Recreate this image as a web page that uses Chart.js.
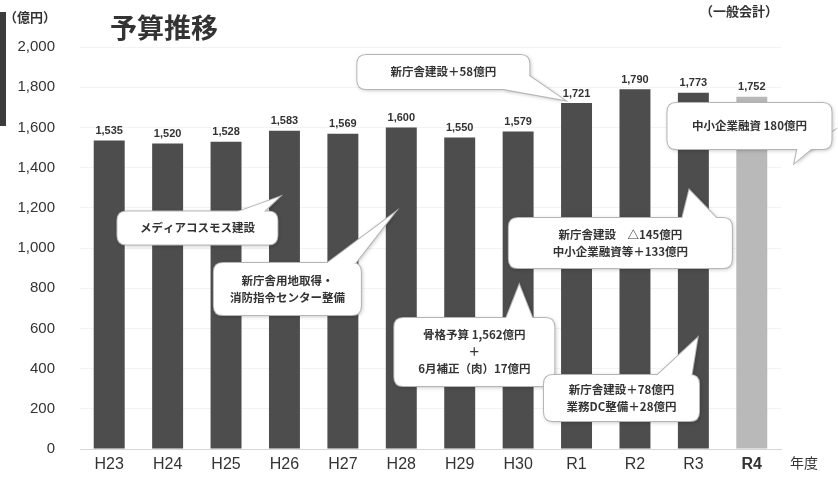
<!DOCTYPE html>
<html>
<head>
<meta charset="utf-8">
<script src="https://cdn.jsdelivr.net/npm/chart.js@4"></script>
<style>
  html,body{margin:0;padding:0;background:#fff;}
  #wrap{width:838px;height:486px;position:relative;}
</style>
</head>
<body>
<div id="wrap"><canvas id="chart" width="838" height="486"></canvas></div>
<script>
// budget by fiscal year (億円)
const years = ['H23','H24','H25','H26','H27','H28','H29','H30','R1','R2','R3','R4'];
const budget = [1535, 1520, 1528, 1583, 1569, 1600, 1550, 1579, 1721, 1790, 1773, 1752];
const yTicks = [0, 200, 400, 600, 800, 1000, 1200, 1400, 1600, 1800, 2000];

// callouts: box centre (category, value), size px, tail tip (category, value)
const notes = [
  {lines:['新庁舎建設＋58億円'], cat:5.72, val:1876, w:172, h:34, base:[60,17,86,4], tip:[7.79,1736]},
  {lines:['中小企業融資 180億円'], cat:10.96, val:1607, w:164, h:46, base:[48,23,82,6], tip:[11.73,1423]},
  {lines:['メディアコスモス建設'], cat:1.51, val:1099, w:160, h:33, base:[40,-16,66,-16], tip:[2.91,1254]},
  {lines:['新庁舎用地取得・','消防指令センター整備'], cat:3.05, val:796, w:147, h:52, base:[40,-26,68,-26], tip:[4.88,1174]},
  {lines:['骨格予算 1,562億円','＋','6月補正（肉）17億円'], cat:6.25, val:483, w:160, h:68, base:[32,-34,58,-34], tip:[7.02,816]},
  {lines:['新庁舎建設　△145億円','中小企業融資等＋133億円'], cat:8.75, val:1025, w:223, h:50, base:[62,-25,96,-25], tip:[9.93,1289]},
  {lines:['新庁舎建設＋78億円','業務DC整備＋28億円'], cat:8.77, val:254, w:155, h:46, base:[36,-23,70,-23], tip:[10.07,552]}
];

const barColors = years.map((y,i)=> i===years.length-1 ? '#b9b9b9' : '#4d4d4d');
const jp = '"Noto Sans CJK JP", "Noto Sans", sans-serif';

function roundRect(ctx,x,y,w,h,r){
  ctx.beginPath();
  ctx.moveTo(x+r,y); ctx.lineTo(x+w-r,y); ctx.quadraticCurveTo(x+w,y,x+w,y+r);
  ctx.lineTo(x+w,y+h-r); ctx.quadraticCurveTo(x+w,y+h,x+w-r,y+h);
  ctx.lineTo(x+r,y+h); ctx.quadraticCurveTo(x,y+h,x,y+h-r);
  ctx.lineTo(x,y+r); ctx.quadraticCurveTo(x,y,x+r,y);
  ctx.closePath();
}

const decor = {
  id:'decor',
  beforeDraw(chart){
    const ctx = chart.ctx;
    ctx.save();
    ctx.fillStyle = '#3c3c3c';
    ctx.fillRect(0, 12, 6, 114);
    ctx.fillStyle = '#333';
    ctx.textBaseline = 'middle';
    ctx.font = 'bold 13px ' + jp;
    ctx.fillText('（億円）', 4, 17);
    ctx.font = 'bold 27px ' + jp;
    ctx.fillText('予算推移', 110, 28);
    ctx.font = 'bold 13px ' + jp;
    ctx.fillText('（一般会計）', 700, 11);
    ctx.font = '14px ' + jp;
    ctx.fillText('年度', 790, 463);
    ctx.restore();
  },
  afterDatasetsDraw(chart){
    const ctx = chart.ctx;
    const xs = chart.scales.x, ys = chart.scales.y;
    const meta = chart.getDatasetMeta(0);
    ctx.save();
    ctx.fillStyle = '#333';
    ctx.font = 'bold 11px "Liberation Sans", sans-serif';
    ctx.textAlign = 'center';
    ctx.textBaseline = 'bottom';
    meta.data.forEach((bar,i)=>{
      ctx.fillText(budget[i].toLocaleString('en-US'), bar.x, bar.y - 4);
    });
    const x0 = xs.getPixelForValue(0), step = xs.getPixelForValue(1) - x0;
    const px = c => x0 + c*step;
    notes.forEach(n=>{
      const cx = px(n.cat), cy = ys.getPixelForValue(n.val);
      const bx = cx - n.w/2, by = cy - n.h/2;
      const tx = px(n.tip[0]), ty = ys.getPixelForValue(n.tip[1]);
      const tri = ()=>{
        ctx.beginPath();
        ctx.moveTo(cx+n.base[0], cy+n.base[1]);
        ctx.lineTo(tx, ty);
        ctx.lineTo(cx+n.base[2], cy+n.base[3]);
        ctx.closePath();
      };
      ctx.save();
      ctx.shadowColor = 'rgba(0,0,0,0.3)';
      ctx.shadowBlur = 4; ctx.shadowOffsetX = 1; ctx.shadowOffsetY = 1;
      ctx.fillStyle = '#fff';
      roundRect(ctx,bx,by,n.w,n.h,9); ctx.fill();
      tri(); ctx.fill();
      ctx.restore();
      ctx.strokeStyle = '#b5b5b5'; ctx.lineWidth = 2;
      roundRect(ctx,bx,by,n.w,n.h,9); ctx.stroke();
      tri(); ctx.stroke();
      ctx.fillStyle = '#fff';
      roundRect(ctx,bx,by,n.w,n.h,9); ctx.fill();
      tri(); ctx.fill();
      ctx.fillStyle = '#333';
      ctx.font = 'bold 11.5px ' + jp;
      ctx.textAlign = 'center'; ctx.textBaseline = 'middle';
      const lh = 17;
      n.lines.forEach((t,k)=>{
        ctx.fillText(t, cx, cy + (k - (n.lines.length-1)/2)*lh);
      });
    });
    ctx.restore();
  }
};

new Chart(document.getElementById('chart').getContext('2d'), {
  type:'bar',
  data:{labels:years, datasets:[{data:budget, backgroundColor:barColors, borderWidth:0,
    categoryPercentage:1, barPercentage:0.53}]},
  options:{
    responsive:false, animation:false,
    layout:{padding:{top:47, right:57, left:0, bottom:0}},
    plugins:{legend:{display:false}, tooltip:{enabled:false}},
    scales:{
      x:{
        grid:{display:false, drawTicks:false},
        border:{color:'#d6d6d6'},
        afterFit: s => { s.height = 37; },
        ticks:{padding:6, color:'#333',
          font: ctx => ({family:'"Liberation Sans Narrow", "Liberation Sans", sans-serif', size:16,
            weight: ctx.index === years.length-1 ? 'bold' : 'normal'})}
      },
      y:{
        min:0, max:2000,
        afterBuildTicks: s => { s.ticks = yTicks.map(v=>({value:v})); },
        afterFit: s => { s.width = 80; },
        grid:{color:'#f3f3f3', drawTicks:false},
        border:{display:false},
        ticks:{padding:25, color:'#333',
          font:{family:'"Liberation Sans", sans-serif', size:15},
          callback: v => v.toLocaleString('en-US')}
      }
    }
  },
  plugins:[decor]
});
</script>
</body>
</html>
